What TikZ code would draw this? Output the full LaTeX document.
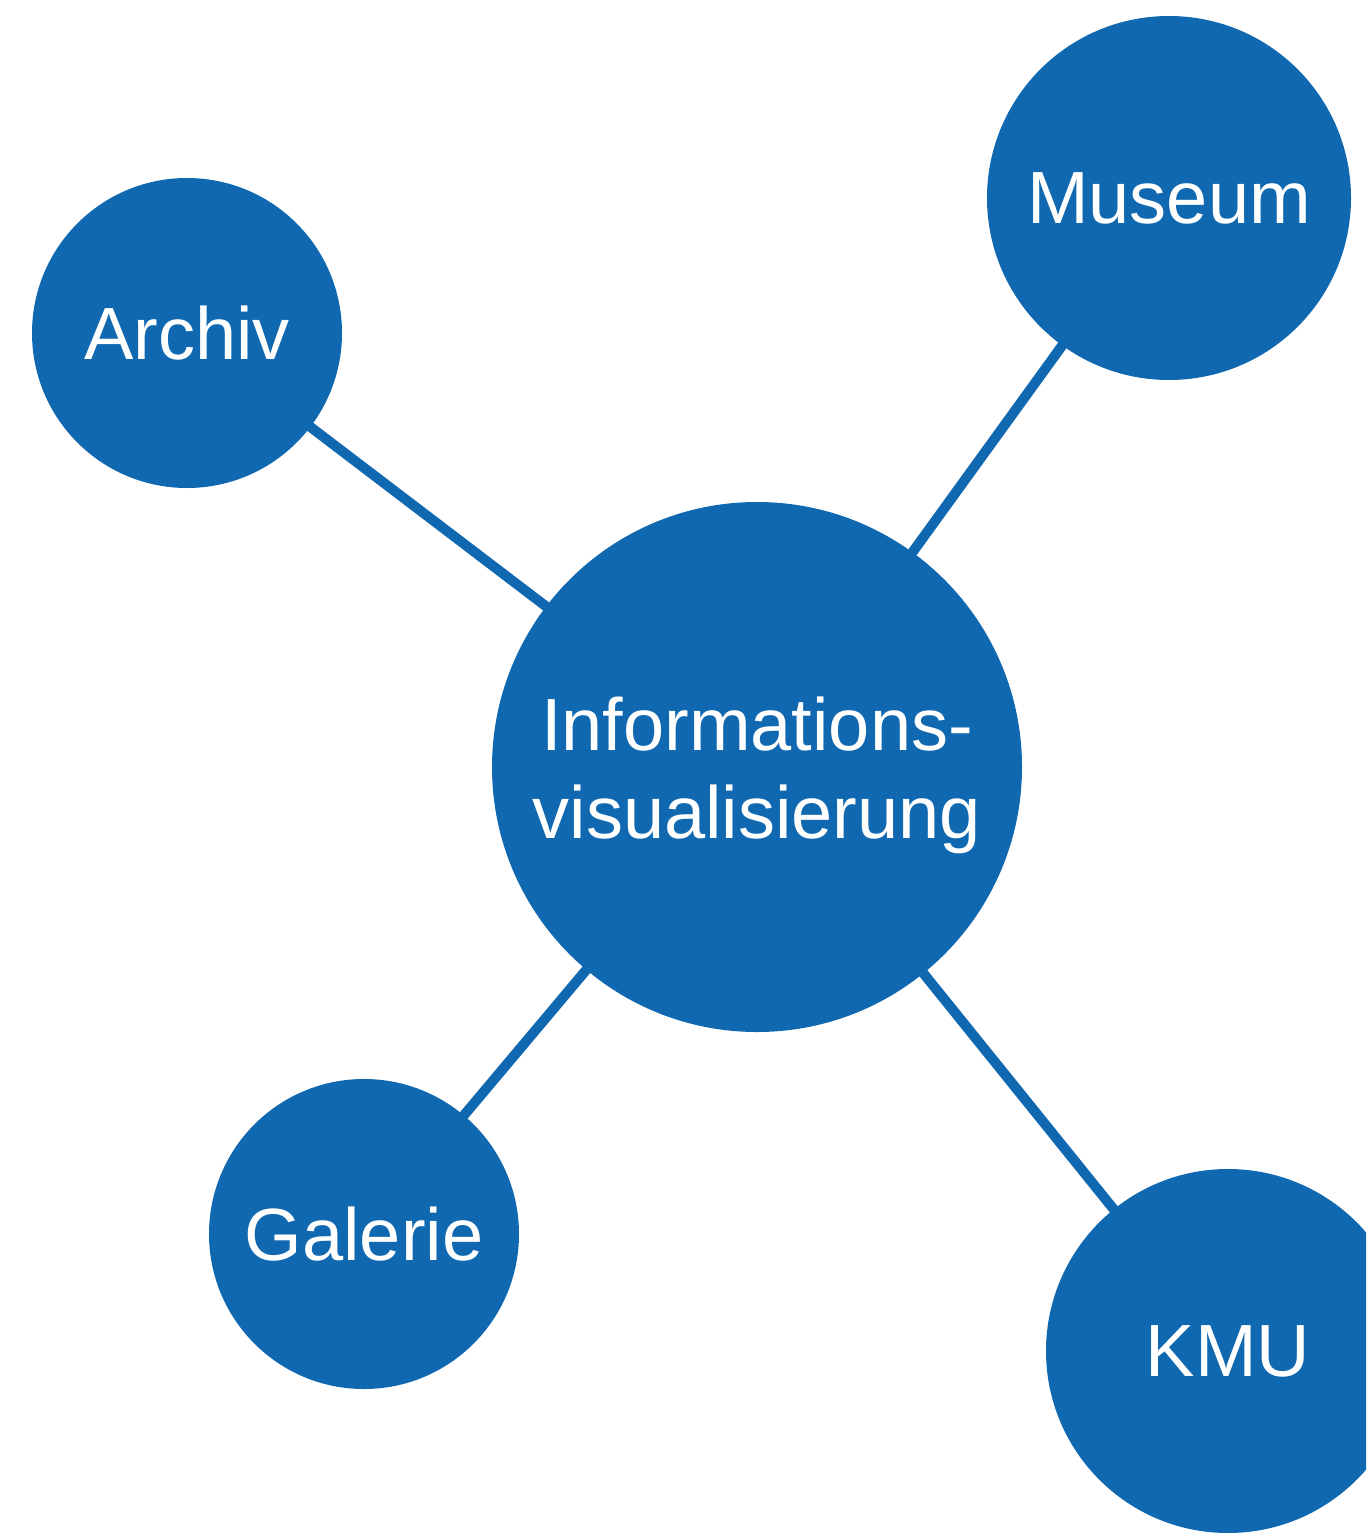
\documentclass[tikz,border=0pt]{standalone}
\usepackage{fontspec}
\setmainfont{Liberation Sans}
\definecolor{vizblue}{HTML}{1068B0}
\begin{document}
\begin{tikzpicture}[x=1pt,y=-1pt,
  bubble/.style={circle,fill=vizblue,draw=none,inner sep=0pt,text=white,
    font=\fontsize{74}{88}\selectfont,align=center},
  link/.style={draw=vizblue,line width=10pt}]
\useasboundingbox (0,0) rectangle (1366,1533);
\clip (0,0) rectangle (1366,1533);
\coordinate (cc) at (757,767);
\coordinate (ac) at (187,333);
\coordinate (mc) at (1169,198);
\coordinate (gc) at (364,1234);
\coordinate (kc) at (1228,1351);
\draw[link] (cc) -- (ac);
\draw[link] (cc) -- (mc);
\draw[link] (cc) -- (gc);
\draw[link] (cc) -- (kc);
\node[bubble,minimum size=530pt] (info) at (cc) {};
\node[text=white,font=\fontsize{74}{88}\selectfont,align=center,anchor=base] (infotext) at (757,838) {Informations-\\visualisierung};
\node[bubble,minimum size=310pt] (archiv) at (ac) {Archiv};
\node[bubble,minimum size=364pt] (museum) at (mc) {Museum};
\node[bubble,minimum size=310pt] (galerie) at (gc) {Galerie};
\node[bubble,minimum size=364pt] (kmu) at (kc) {KMU};
\end{tikzpicture}
\end{document}
